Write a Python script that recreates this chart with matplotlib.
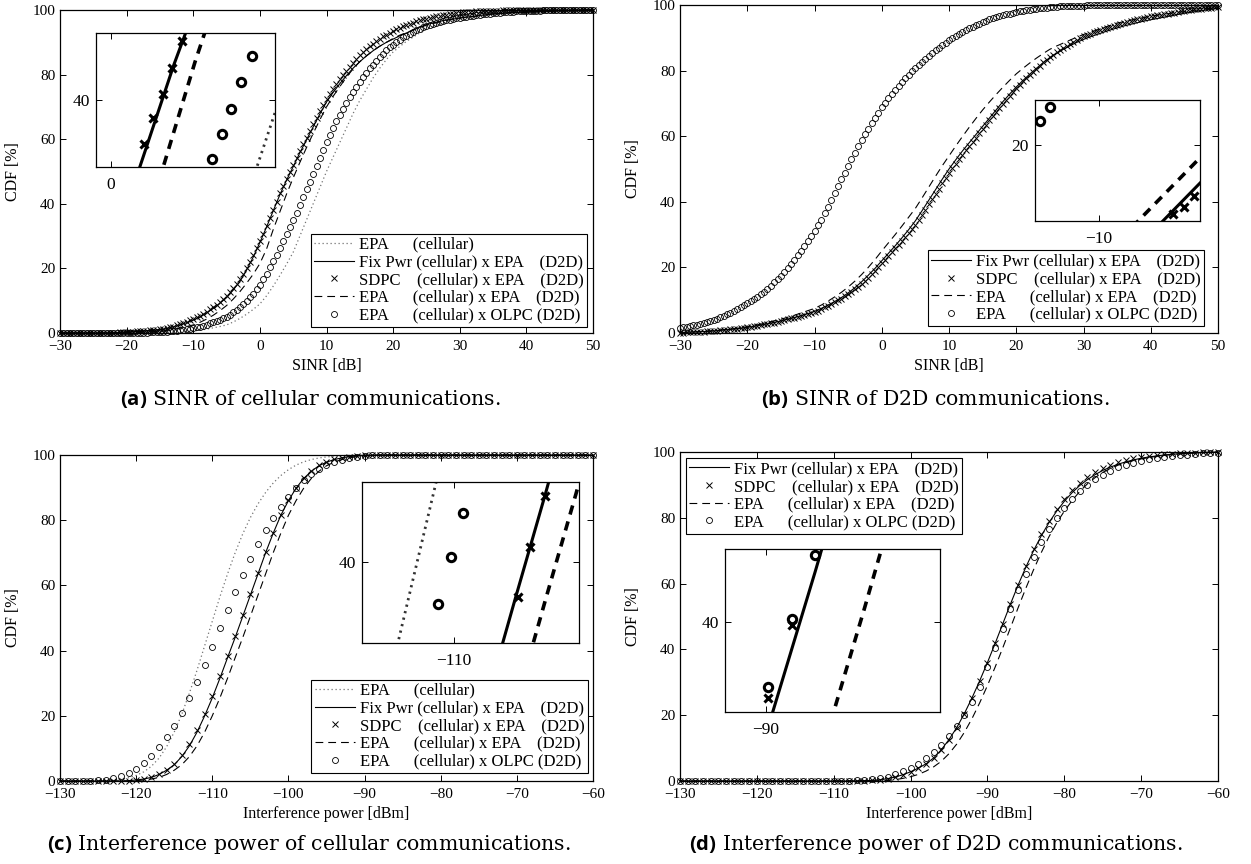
import numpy as np
import matplotlib
matplotlib.use("Agg")
import matplotlib.pyplot as plt
from matplotlib.ticker import MultipleLocator

W, H = 1251, 864

plt.rcParams['font.family'] = ['Liberation Serif', 'DejaVu Serif']
plt.rcParams['mathtext.fontset'] = 'custom'
plt.rcParams['mathtext.bf'] = 'Open Sans:bold'
plt.rcParams['axes.linewidth'] = 0.9

# sample grids
SINR = np.arange(-30, 51)          # dB, 1 dB step (lines)
SINR_F = np.arange(-30, 50.5, 0.5)  # dB, 0.5 dB step (marker series)
PWR = np.arange(-130, -59)         # dBm

# ---------------- (a) SINR of cellular communications, CDF [%]
A_EPA_CELL = [0, 0, 0, 0, 0, 0, 0, 0, 0, 0,
              0, 0, 0, 0, 0, 0.2, 0.25, 0.3, 0.4, 0.5,
              0.6, 0.9, 1.2, 1.6, 2.0, 2.5, 3.4, 4.5, 5.8, 7.3,
              9.0, 11.5, 14.5, 17.8, 21.3, 25.0, 30.0, 35.0, 40.0, 45.0,
              50.0, 54.5, 59.0, 63.5, 68.0, 72.0, 75.5, 79.0, 82.0, 84.7,
              87.0, 88.7, 90.3, 91.6, 92.9, 94.0, 94.8, 95.5, 96.1, 96.7,
              97.3, 97.6, 97.9, 98.2, 98.5, 98.8, 99.0, 99.1, 99.3, 99.4,
              99.5, 99.6, 99.6, 99.7, 99.7, 99.8, 99.8, 99.9, 99.9, 100,
              100]
A_FIX = [0, 0, 0, 0, 0, 0, 0, 0, 0.1, 0.15,
         0.3, 0.4, 0.5, 0.7, 0.8, 1.0, 1.4, 1.9, 2.5, 3.2,
         4.0, 5.0, 6.2, 7.6, 9.2, 11.0, 13.3, 16.0, 19.5, 23.5,
         28.0, 32.8, 37.8, 42.8, 47.3, 51.5, 55.8, 59.8, 63.8, 67.8,
         71.5, 74.5, 77.2, 79.7, 82.0, 84.0, 85.8, 87.4, 88.8, 90.0,
         91.0, 92.0, 92.9, 93.8, 94.7, 95.5, 96.0, 96.5, 96.9, 97.2,
         97.5, 97.8, 98.0, 98.3, 98.5, 98.7, 98.9, 99.0, 99.2, 99.3,
         99.4, 99.5, 99.6, 99.6, 99.7, 99.8, 99.8, 99.9, 99.9, 100,
         100]
A_SDPC = [0, 0, 0, 0, 0, 0, 0, 0, 0, 0,
          0, 0, 0, 0, 0, 0.05, 0.1, 0.15, 0.2, 0.25,
          0.3, 0.35, 0.4, 0.5, 0.6, 0.65, 0.7, 0.8, 0.9, 1.0,
          1.1, 1.3, 1.5, 1.75, 2.0, 2.35, 2.7, 3.1, 3.5, 3.95,
          4.4, 4.9, 5.4, 6.0, 6.6, 7.3, 8.0, 8.8, 9.7, 10.6,
          11.6, 12.7, 13.9, 15.2, 16.6, 18.2, 20.0, 22.0, 24.0, 26.2,
          28.5, 30.8, 33.2, 35.7, 38.2, 40.7, 43.2, 45.5, 47.8, 49.9,
          52.0, 54.2, 56.3, 58.4, 60.5, 62.6, 64.6, 66.6, 68.6, 70.5,
          72.3, 73.9, 75.5, 77.0, 78.5, 79.9, 81.2, 82.5, 83.7, 84.9,
          86.0, 87.0, 87.9, 88.8, 89.6, 90.4, 91.1, 91.8, 92.4, 93.0,
          93.5, 94.0, 94.5, 95.0, 95.4, 95.8, 96.1, 96.5, 96.8, 97.1,
          97.3, 97.6, 97.8, 98.0, 98.2, 98.4, 98.6, 98.8, 98.9, 99.1,
          99.2, 99.3, 99.4, 99.45, 99.5, 99.55, 99.6, 99.65, 99.7, 99.75,
          99.8, 99.8, 99.8, 99.85, 99.9, 99.9, 99.9, 99.95, 100, 100,
          100, 100, 100, 100, 100, 100, 100, 100, 100, 100,
          100, 100, 100, 100, 100, 100, 100, 100, 100, 100,
          100]
A_EPA = [0, 0, 0, 0, 0, 0, 0, 0, 0, 0.1,
         0.15, 0.2, 0.3, 0.35, 0.4, 0.5, 0.8, 1.1, 1.5, 2.0,
         2.5, 3.3, 4.3, 5.5, 6.9, 8.5, 10.5, 12.8, 15.4, 18.2,
         21.5, 26.0, 32.0, 37.5, 43.0, 48.0, 52.8, 57.4, 61.8, 66.0,
         70.0, 73.3, 76.3, 79.2, 81.8, 84.0, 85.8, 87.4, 88.8, 90.0,
         91.2, 92.2, 93.0, 93.8, 94.6, 95.3, 95.8, 96.3, 96.8, 97.2,
         97.5, 97.8, 98.0, 98.3, 98.5, 98.7, 98.9, 99.0, 99.2, 99.3,
         99.4, 99.5, 99.6, 99.6, 99.7, 99.8, 99.8, 99.9, 99.9, 100,
         100]
A_OLPC = [0, 0, 0, 0, 0, 0, 0, 0, 0, 0,
          0, 0, 0, 0, 0, 0, 0, 0, 0, 0,
          0, 0.02, 0.05, 0.08, 0.1, 0.12, 0.15, 0.18, 0.2, 0.25,
          0.3, 0.38, 0.45, 0.52, 0.6, 0.72, 0.85, 0.97, 1.1, 1.3,
          1.5, 1.75, 2.0, 2.3, 2.6, 2.95, 3.3, 3.7, 4.1, 4.6,
          5.1, 5.7, 6.4, 7.2, 8.0, 8.9, 9.9, 11.0, 12.2, 13.6,
          15.0, 16.7, 18.4, 20.3, 22.2, 24.2, 26.3, 28.4, 30.6, 32.8,
          35.0, 37.3, 39.7, 42.1, 44.5, 46.9, 49.3, 51.7, 54.2, 56.6,
          59.0, 61.2, 63.4, 65.5, 67.5, 69.4, 71.2, 73.0, 74.7, 76.3,
          77.8, 79.2, 80.6, 81.9, 83.1, 84.3, 85.4, 86.5, 87.5, 88.4,
          89.3, 90.1, 90.8, 91.5, 92.1, 92.7, 93.2, 93.7, 94.2, 94.6,
          95.0, 95.4, 95.7, 96.0, 96.3, 96.6, 96.8, 97.0, 97.2, 97.4,
          97.6, 97.75, 97.9, 98.05, 98.2, 98.35, 98.5, 98.65, 98.8, 98.9,
          99.0, 99.1, 99.2, 99.25, 99.3, 99.4, 99.5, 99.55, 99.6, 99.65,
          99.7, 99.75, 99.8, 99.8, 99.8, 99.85, 99.9, 99.9, 99.9, 99.95,
          100, 100, 100, 100, 100, 100, 100, 100, 100, 100,
          100]
# values seen inside the (a) zoom box
A_IN_SDPC_X = [1.6, 2.0, 2.5, 2.9, 3.4]
A_IN_SDPC_Y = [36.5, 38.6, 40.5, 42.5, 44.7]
A_IN_OLPC_X = [4.8, 5.3, 5.7, 6.2, 6.7]
A_IN_OLPC_Y = [35.3, 37.3, 39.3, 41.4, 43.5]

# ---------------- (b) SINR of D2D communications
B_FIX = [0.1, 0.2, 0.3, 0.4, 0.5, 0.6, 0.8, 1.0, 1.2, 1.4,
         1.7, 2.0, 2.4, 2.8, 3.2, 3.7, 4.2, 4.7, 5.3, 5.9,
         6.6, 7.5, 8.5, 9.6, 10.8, 12.2, 13.8, 15.6, 17.6, 19.7,
         22.0, 24.3, 26.6, 29.0, 31.5, 34.2, 37.3, 40.5, 43.7, 46.9,
         50.0, 52.8, 55.5, 58.0, 60.5, 63.0, 65.5, 68.0, 70.5, 72.8,
         75.0, 77.0, 78.9, 80.7, 82.4, 84.0, 85.3, 86.5, 87.6, 88.6,
         89.5, 90.3, 91.0, 91.7, 92.4, 93.0, 93.6, 94.1, 94.6, 95.1,
         95.5, 95.9, 96.3, 96.7, 97.1, 97.5, 97.8, 98.1, 98.4, 98.7,
         99.0]
B_SDPC = [0.1, 0.15, 0.2, 0.25, 0.3, 0.35, 0.4, 0.45, 0.5, 0.55,
          0.6, 0.7, 0.8, 0.9, 1.0, 1.1, 1.2, 1.3, 1.4, 1.55,
          1.7, 1.85, 2.0, 2.2, 2.4, 2.6, 2.8, 3.0, 3.2, 3.45,
          3.7, 3.95, 4.2, 4.45, 4.7, 5.0, 5.3, 5.6, 5.9, 6.15,
          6.4, 6.85, 7.3, 7.8, 8.3, 8.85, 9.4, 9.95, 10.5, 11.15,
          11.8, 12.55, 13.3, 14.15, 15.0, 15.95, 16.9, 17.95, 19.0, 20.1,
          21.2, 22.35, 23.5, 24.65, 25.8, 26.95, 28.1, 29.3, 30.5, 31.75,
          33.0, 34.5, 36.0, 37.6, 39.2, 40.8, 42.4, 44.0, 45.6, 47.2,
          48.8, 50.2, 51.6, 53.0, 54.4, 55.7, 57.0, 58.3, 59.6, 60.9,
          62.2, 63.5, 64.8, 66.1, 67.4, 68.65, 69.9, 71.1, 72.3, 73.45,
          74.6, 75.65, 76.7, 77.7, 78.7, 79.65, 80.6, 81.55, 82.5, 83.35,
          84.2, 84.9, 85.6, 86.25, 86.9, 87.5, 88.1, 88.7, 89.3, 89.85,
          90.4, 90.85, 91.3, 91.7, 92.1, 92.45, 92.8, 93.1, 93.4, 93.7,
          94.0, 94.3, 94.6, 94.85, 95.1, 95.35, 95.6, 95.85, 96.1, 96.3,
          96.5, 96.7, 96.9, 97.05, 97.2, 97.35, 97.5, 97.7, 97.9, 98.05,
          98.2, 98.35, 98.5, 98.65, 98.8, 98.9, 99.0, 99.1, 99.2, 99.3,
          99.4]
B_EPA = [0.1, 0.2, 0.3, 0.4, 0.5, 0.7, 0.9, 1.1, 1.3, 1.6,
         1.9, 2.3, 2.7, 3.2, 3.7, 4.2, 4.8, 5.4, 6.1, 6.8,
         7.5, 8.5, 9.7, 11.0, 12.4, 14.0, 15.8, 17.8, 20.0, 22.4,
         25.0, 27.5, 30.0, 32.6, 35.3, 38.0, 41.2, 44.5, 47.8, 51.0,
         54.0, 57.0, 59.9, 62.7, 65.4, 68.0, 70.4, 72.7, 74.9, 77.0,
         79.0, 80.7, 82.3, 83.8, 85.2, 86.5, 87.5, 88.4, 89.3, 90.2,
         91.0, 91.7, 92.4, 93.1, 93.8, 94.5, 94.9, 95.4, 95.8, 96.2,
         96.6, 96.9, 97.2, 97.5, 97.8, 98.0, 98.3, 98.5, 98.8, 99.0,
         99.2]
B_OLPC = [1.5, 1.7, 1.9, 2.1, 2.3, 2.55, 2.8, 3.05, 3.3, 3.65,
          4.0, 4.4, 4.8, 5.25, 5.7, 6.2, 6.7, 7.25, 7.8, 8.4,
          9.0, 9.65, 10.3, 11.05, 11.8, 12.65, 13.5, 14.45, 15.4, 16.45,
          17.5, 18.65, 19.8, 21.1, 22.4, 23.75, 25.1, 26.55, 28.0, 29.5,
          31.0, 32.8, 34.6, 36.55, 38.5, 40.55, 42.6, 44.7, 46.8, 48.9,
          51.0, 53.0, 55.0, 56.9, 58.8, 60.55, 62.3, 63.95, 65.6, 67.2,
          68.8, 70.2, 71.6, 72.9, 74.2, 75.4, 76.6, 77.7, 78.8, 79.8,
          80.8, 81.75, 82.7, 83.6, 84.5, 85.35, 86.2, 87.0, 87.8, 88.5,
          89.2, 89.9, 90.6, 91.2, 91.8, 92.35, 92.9, 93.4, 93.9, 94.35,
          94.8, 95.2, 95.6, 95.95, 96.3, 96.6, 96.9, 97.15, 97.4, 97.65,
          97.9, 98.1, 98.3, 98.45, 98.6, 98.75, 98.9, 99.0, 99.1, 99.2,
          99.3, 99.4, 99.5, 99.55, 99.6, 99.65, 99.7, 99.75, 99.8, 99.8,
          99.8, 99.85, 99.9, 99.9, 99.9, 99.95, 100, 100, 100, 100,
          100, 100, 100, 100, 100, 100, 100, 100, 100, 100,
          100, 100, 100, 100, 100, 100, 100, 100, 100, 100,
          100, 100, 100, 100, 100, 100, 100, 100, 100, 100,
          100]
# values seen inside the (b) zoom box
B_IN_FIX_X = [-7.2, -4.8]
B_IN_FIX_Y = [15.45, 18.25]
B_IN_EPA_X = [-8.4, -4.8]
B_IN_EPA_Y = [15.45, 19.65]
B_IN_SDPC_X = [-6.4, -5.9, -5.4]
B_IN_SDPC_Y = [16.2, 16.6, 17.2]
B_IN_OLPC_X = [-12.86, -12.38]
B_IN_OLPC_Y = [21.36, 22.1]

# ---------------- (c) interference power of cellular communications
C_EPA_CELL = [0, 0, 0, 0, 0, 0, 0.1, 0.3, 0.6, 1.0,
              1.7, 2.8, 4.5, 7.0, 10.5, 15.0, 20.5, 27.0, 34.0, 41.5,
              49.0, 56.5, 63.5, 70.0, 75.8, 80.8, 85.0, 88.5, 91.4, 93.7,
              95.5, 96.9, 97.9, 98.6, 99.1, 99.4, 99.6, 99.8, 99.9, 100,
              100, 100, 100, 100, 100, 100, 100, 100, 100, 100,
              100, 100, 100, 100, 100, 100, 100, 100, 100, 100,
              100, 100, 100, 100, 100, 100, 100, 100, 100, 100,
              100]
C_FIX = [0, 0, 0, 0, 0, 0, 0, 0, 0, 0.1,
         0.3, 0.6, 1.1, 2.0, 3.3, 5.0, 7.5, 10.8, 15.0, 20.0,
         25.5, 31.5, 37.8, 44.0, 50.5, 57.0, 63.5, 70.0, 76.0, 81.5,
         86.0, 89.8, 92.8, 95.0, 96.7, 97.8, 98.6, 99.1, 99.5, 99.7,
         99.85, 99.95, 100, 100, 100, 100, 100, 100, 100, 100,
         100, 100, 100, 100, 100, 100, 100, 100, 100, 100,
         100, 100, 100, 100, 100, 100, 100, 100, 100, 100,
         100]
C_SDPC = [0, 0, 0, 0, 0, 0, 0, 0, 0, 0.1,
          0.3, 0.6, 1.2, 2.1, 3.5, 5.3, 7.9, 11.2, 15.5, 20.6,
          26.1, 32.1, 38.4, 44.6, 51.0, 57.4, 63.8, 70.2, 76.1, 81.6,
          86.1, 89.9, 92.9, 95.1, 96.8, 97.9, 98.7, 99.2, 99.5, 99.7,
          99.85, 99.95, 100, 100, 100, 100, 100, 100, 100, 100,
          100, 100, 100, 100, 100, 100, 100, 100, 100, 100,
          100, 100, 100, 100, 100, 100, 100, 100, 100, 100,
          100]
C_EPA = [0, 0, 0, 0, 0, 0, 0, 0, 0, 0,
         0.1, 0.3, 0.6, 1.1, 2.0, 3.3, 5.0, 7.5, 10.8, 15.0,
         20.0, 25.5, 31.5, 37.8, 44.0, 50.5, 57.0, 63.5, 70.0, 76.0,
         81.5, 86.0, 89.8, 92.8, 95.0, 96.7, 97.8, 98.6, 99.1, 99.5,
         99.7, 99.85, 99.95, 100, 100, 100, 100, 100, 100, 100,
         100, 100, 100, 100, 100, 100, 100, 100, 100, 100,
         100, 100, 100, 100, 100, 100, 100, 100, 100, 100,
         100]
C_OLPC = [0, 0, 0, 0, 0, 0.2, 0.45, 0.9, 1.5, 2.5,
          3.8, 5.5, 7.8, 10.5, 13.5, 17.0, 21.0, 25.5, 30.3, 35.5,
          41.0, 46.8, 52.5, 58.0, 63.3, 68.2, 72.8, 77.0, 80.8, 84.2,
          87.2, 89.9, 92.2, 94.1, 95.7, 96.9, 97.9, 98.6, 99.1, 99.5,
          99.7, 99.85, 99.95, 100, 100, 100, 100, 100, 100, 100,
          100, 100, 100, 100, 100, 100, 100, 100, 100, 100,
          100, 100, 100, 100, 100, 100, 100, 100, 100, 100,
          100]
C_IN_SDPC_X = [-107.9, -107.5, -107.0]
C_IN_SDPC_Y = [38.0, 40.9, 43.9]
C_IN_OLPC_X = [-110.5, -110.1, -109.7]
C_IN_OLPC_Y = [37.6, 40.3, 42.9]

# ---------------- (d) interference power of D2D communications
D_FIX = [0, 0, 0, 0, 0, 0, 0, 0, 0, 0,
         0, 0, 0, 0, 0, 0, 0, 0, 0, 0,
         0, 0, 0, 0.05, 0.1, 0.2, 0.4, 0.7, 1.2, 1.9,
         2.8, 3.9, 5.2, 7.0, 9.5, 12.6, 16.2, 20.5, 25.3, 30.5,
         36.0, 41.8, 47.8, 53.8, 59.6, 65.0, 70.0, 74.5, 78.5, 82.0,
         85.0, 87.6, 89.8, 91.6, 93.1, 94.4, 95.4, 96.3, 97.0, 97.6,
         98.1, 98.5, 98.8, 99.1, 99.3, 99.5, 99.6, 99.7, 99.8, 99.9,
         100]
D_SDPC = [0, 0, 0, 0, 0, 0, 0, 0, 0, 0,
          0, 0, 0, 0, 0, 0, 0, 0, 0, 0,
          0, 0, 0, 0.05, 0.1, 0.2, 0.4, 0.7, 1.2, 1.9,
          2.8, 3.9, 5.2, 7.0, 9.5, 12.6, 16.2, 20.5, 25.3, 30.5,
          36.0, 41.8, 47.8, 53.8, 59.6, 65.2, 70.4, 75.0, 79.0, 82.7,
          85.8, 88.5, 90.7, 92.5, 94.0, 95.2, 96.2, 97.0, 97.6, 98.1,
          98.5, 98.8, 99.1, 99.3, 99.5, 99.6, 99.7, 99.8, 99.9, 99.9,
          100]
D_EPA = [0, 0, 0, 0, 0, 0, 0, 0, 0, 0,
         0, 0, 0, 0, 0, 0, 0, 0, 0, 0,
         0, 0, 0, 0, 0, 0.05, 0.1, 0.2, 0.4, 0.8,
         1.3, 2.0, 3.0, 4.3, 6.0, 8.3, 11.2, 14.8, 19.0, 23.8,
         29.0, 34.6, 40.5, 46.6, 52.7, 58.6, 64.2, 69.4, 74.2, 78.4,
         82.0, 85.2, 88.0, 90.3, 92.2, 93.8, 95.0, 96.0, 96.8, 97.4,
         97.9, 98.3, 98.7, 99.0, 99.2, 99.4, 99.6, 99.7, 99.8, 99.9,
         100]
D_OLPC = [0, 0, 0, 0, 0, 0, 0, 0, 0, 0,
          0, 0, 0, 0, 0, 0, 0, 0, 0, 0,
          0, 0.05, 0.1, 0.2, 0.3, 0.5, 0.8, 1.3, 2.0, 2.9,
          4.0, 5.3, 6.9, 8.8, 11.0, 13.6, 16.6, 20.0, 24.0, 28.5,
          34.5, 40.3, 46.3, 52.3, 58.0, 63.0, 68.0, 72.5, 76.5, 80.0,
          83.0, 85.7, 88.0, 90.0, 91.7, 93.1, 94.3, 95.3, 96.1, 96.8,
          97.3, 97.8, 98.2, 98.5, 98.8, 99.0, 99.2, 99.4, 99.6, 99.7,
          99.8]
D_IN_SDPC_X = [-89.96, -89.48]
D_IN_SDPC_Y = [37.3, 39.9]
D_IN_OLPC_X = [-89.96, -89.48, -89.0]
D_IN_OLPC_Y = [37.7, 40.1, 42.4]

LBL_CELL = "EPA      (cellular)"
LBL_FIX = "Fix Pwr (cellular) x EPA    (D2D)"
LBL_SDPC = "SDPC    (cellular) x EPA    (D2D)"
LBL_EPA = "EPA      (cellular) x EPA    (D2D)"
LBL_OLPC = "EPA      (cellular) x OLPC (D2D)"

STYLE = {
    'cell': dict(color='0.45', lw=0.9, ls=(0, (1, 2.2))),
    'fix': dict(color='k', lw=0.8, ls='-'),
    'sdpc': dict(color='k', ls='none', marker='x', ms=4, mew=0.7),
    'epa': dict(color='k', lw=0.8, ls=(0, (7, 4.5))),
    'olpc': dict(color='k', ls='none', marker='o', ms=4.3, mfc='none', mew=0.6),
}
STYLE_IN = {
    'cell': dict(color='0.2', lw=2.0, ls=(0, (0.8, 1.6))),
    'fix': dict(color='k', lw=2.2, ls='-'),
    'sdpc': dict(color='k', ls='none', marker='x', ms=6, mew=2.2),
    'epa': dict(color='k', lw=2.6, ls=(0, (2.6, 2.0))),
    'olpc': dict(color='k', ls='none', marker='o', ms=6, mfc='none', mew=2.2),
}


def box(l, t, r, b):
    # pixel box of the 1251x864 canvas -> figure fraction
    return [l / W, 1 - b / H, (r - l) / W, (b - t) / H]


def ticks(ax, size=11, xpad=4.8, ypad=3.5):
    ax.xaxis.set_major_locator(MultipleLocator(10))
    ax.yaxis.set_major_locator(MultipleLocator(20))
    ax.tick_params(direction='in', top=True, right=True, length=4,
                   width=0.7, labelsize=size)
    ax.tick_params(axis='x', pad=xpad)
    ax.tick_params(axis='y', pad=ypad)


def panel(rect, series, xlim, xlabel, leg_loc, leg_anchor):
    ax = fig.add_axes(rect)
    hs = []
    for key, x, y, lbl in series:
        h, = ax.plot(x, y, label=lbl, clip_on=False, **STYLE[key])
        hs.append(h)
    ax.set_xlim(xlim)
    ax.set_ylim(0, 100)
    ticks(ax)
    ax.set_xlabel(xlabel, fontsize=11.5, labelpad=4)
    ax.set_ylabel('CDF [%]', fontsize=11.5, labelpad=8)
    leg = ax.legend(handles=hs, loc=leg_loc, bbox_to_anchor=leg_anchor,
                    borderaxespad=0, fontsize=12, handlelength=2.4,
                    handletextpad=0.3, borderpad=0.2, labelspacing=0.1,
                    fancybox=False, framealpha=1, edgecolor='k')
    leg.get_frame().set_linewidth(0.8)
    return ax


def inset(rect, parts, xlim, ylim):
    ia = fig.add_axes(rect)
    for key, x, y in parts:
        ia.plot(x, y, **STYLE_IN[key])
    ia.set_xlim(xlim)
    ia.set_ylim(ylim)
    ticks(ia, size=12.5, xpad=7, ypad=4.5)
    return ia


fig = plt.figure(figsize=(W / 100, H / 100), dpi=100)

# (a)
panel(box(60, 10, 593, 333),
      [('cell', SINR, A_EPA_CELL, LBL_CELL), ('fix', SINR, A_FIX, LBL_FIX),
       ('sdpc', SINR_F, A_SDPC, LBL_SDPC), ('epa', SINR, A_EPA, LBL_EPA),
       ('olpc', SINR_F, A_OLPC, LBL_OLPC)],
      (-30, 50), 'SINR [dB]', 'lower right', (0.989, 0.019))
inset(box(96, 33, 275, 167),
      [('cell', SINR, A_EPA_CELL), ('fix', SINR, A_FIX), ('epa', SINR, A_EPA),
       ('sdpc', A_IN_SDPC_X, A_IN_SDPC_Y), ('olpc', A_IN_OLPC_X, A_IN_OLPC_Y)],
      (-0.7, 7.8), (34.7, 45.3))

# (b)
panel(box(680, 5, 1218, 333),
      [('fix', SINR, B_FIX, LBL_FIX), ('sdpc', SINR_F, B_SDPC, LBL_SDPC),
       ('epa', SINR, B_EPA, LBL_EPA), ('olpc', SINR_F, B_OLPC, LBL_OLPC)],
      (-30, 50), 'SINR [dB]', 'lower right', (0.974, 0.021))
inset(box(1035, 100, 1200, 221),
      [('fix', B_IN_FIX_X, B_IN_FIX_Y), ('epa', B_IN_EPA_X, B_IN_EPA_Y),
       ('sdpc', B_IN_SDPC_X, B_IN_SDPC_Y), ('olpc', B_IN_OLPC_X, B_IN_OLPC_Y)],
      (-13.1, -5.1), (15.8, 22.5))

# (c)
panel(box(60, 455, 593, 781),
      [('cell', PWR, C_EPA_CELL, LBL_CELL), ('fix', PWR, C_FIX, LBL_FIX),
       ('sdpc', PWR, C_SDPC, LBL_SDPC), ('epa', PWR, C_EPA, LBL_EPA),
       ('olpc', PWR, C_OLPC, LBL_OLPC)],
      (-130, -60), 'Interference power [dBm]', 'lower right', (0.99, 0.025))
inset(box(362, 482, 579, 643),
      [('cell', PWR, C_EPA_CELL), ('fix', PWR, C_FIX), ('epa', PWR, C_EPA),
       ('sdpc', C_IN_SDPC_X, C_IN_SDPC_Y), ('olpc', C_IN_OLPC_X, C_IN_OLPC_Y)],
      (-113.0, -105.9), (35.3, 44.7))

# (d)
panel(box(680, 452, 1218, 781),
      [('fix', PWR, D_FIX, LBL_FIX), ('sdpc', PWR, D_SDPC, LBL_SDPC),
       ('epa', PWR, D_EPA, LBL_EPA), ('olpc', PWR, D_OLPC, LBL_OLPC)],
      (-130, -60), 'Interference power [dBm]', 'upper left', (0.011, 0.982))
inset(box(725, 549, 940, 712),
      [('fix', PWR, D_FIX), ('epa', PWR, D_EPA),
       ('sdpc', D_IN_SDPC_X, D_IN_SDPC_Y), ('olpc', D_IN_OLPC_X, D_IN_OLPC_Y)],
      (-90.83, -86.47), (36.8, 42.6))

# sub-captions
caps = [(310, 399, r'$\mathbf{(a)}$ SINR of cellular communications.'),
        (935, 399, r'$\mathbf{(b)}$ SINR of D2D communications.'),
        (309, 845, r'$\mathbf{(c)}$ Interference power of cellular communications.'),
        (936, 845, r'$\mathbf{(d)}$ Interference power of D2D communications.')]
for cx, cy, txt in caps:
    fig.text(cx / W, 1 - cy / H, txt, ha='center', va='center',
             fontsize=14.7, family='DejaVu Serif')

fig.savefig('out.png', dpi=100)
